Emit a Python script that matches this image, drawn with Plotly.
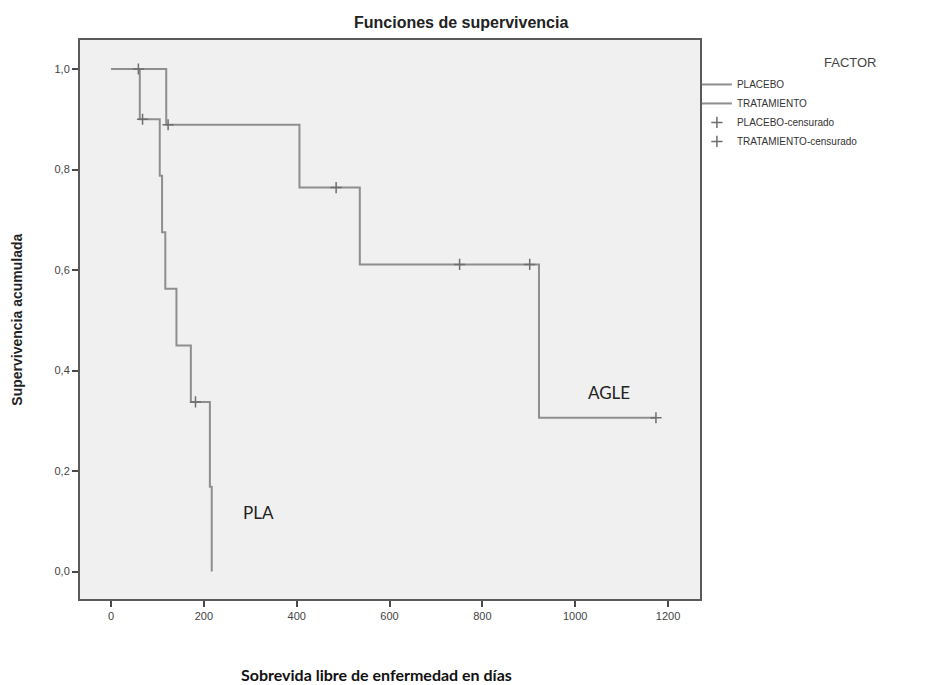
import plotly.graph_objects as go

# Kaplan-Meier step data (days, cumulative survival)
placebo_t = [0, 62, 105, 110, 117, 141, 172, 213, 217]
placebo_s = [1.0, 0.9, 0.7875, 0.675, 0.5625, 0.45, 0.3375, 0.16875, 0.0]
trat_t = [0, 119, 406, 536, 922, 1174]
trat_s = [1.0, 0.889, 0.764, 0.611, 0.306, 0.306]

# censored observations
placebo_cens_t = [68, 182]
placebo_cens_s = [0.9, 0.3375]
trat_cens_t = [59, 123, 485, 751, 902, 1174]
trat_cens_s = [1.0, 0.889, 0.764, 0.611, 0.611, 0.306]

x_ticks = [0, 200, 400, 600, 800, 1000, 1200]
x_ticktext = ["0", "200", "400", "600", "800", "1000", "1200"]
y_ticks = [0.0, 0.2, 0.4, 0.6, 0.8, 1.0]
y_ticktext = ["0,0", "0,2", "0,4", "0,6", "0,8", "1,0"]

line_col = "#8e8e8e"
mark_col = "#6e6e6e"

fig = go.Figure()
fig.add_trace(go.Scatter(x=placebo_t, y=placebo_s, mode="lines", line_shape="hv",
                         line=dict(color=line_col, width=2), name="PLACEBO"))
fig.add_trace(go.Scatter(x=trat_t, y=trat_s, mode="lines", line_shape="hv",
                         line=dict(color=line_col, width=2), name="TRATAMIENTO"))
fig.add_trace(go.Scatter(x=placebo_cens_t, y=placebo_cens_s, mode="markers",
                         marker=dict(symbol="cross-thin-open", size=8, color=mark_col,
                                     line=dict(color=mark_col, width=1.5)),
                         name="PLACEBO-censurado"))
fig.add_trace(go.Scatter(x=trat_cens_t, y=trat_cens_s, mode="markers",
                         marker=dict(symbol="cross-thin-open", size=8, color=mark_col,
                                     line=dict(color=mark_col, width=1.5)),
                         name="TRATAMIENTO-censurado"))

axis_common = dict(showgrid=False, zeroline=False, showline=True, linecolor="#5a5a5a",
                   linewidth=2, mirror=True, ticks="outside", ticklen=6, tickwidth=2,
                   tickcolor="#4a4a4a", tickfont=dict(family="Arial", size=11, color="#444"))

fig.update_layout(
    width=929, height=685,
    margin=dict(l=80, r=229, t=40, b=86),
    paper_bgcolor="white", plot_bgcolor="#f0f0f0",
    showlegend=True,
    legend=dict(x=0.995, y=0.9464, xanchor="left", yanchor="top",
                font=dict(family="Arial", size=10, color="#333"),
                bgcolor="rgba(0,0,0,0)", tracegroupgap=0),
    xaxis=dict(range=[-66.8, 1268.9], tickvals=x_ticks, ticktext=x_ticktext, **axis_common),
    yaxis=dict(range=[-0.0547, 1.0577], tickvals=y_ticks, ticktext=y_ticktext, **axis_common),
    annotations=[
        dict(text="<b>Funciones de supervivencia</b>", xref="paper", yref="paper",
             x=0.615, y=1.032, xanchor="center", yanchor="middle", showarrow=False,
             font=dict(family="Arial", size=16, color="#222")),
        dict(text="<b>Supervivencia acumulada</b>", xref="paper", yref="paper",
             x=-0.103, y=0.5, xanchor="center", yanchor="middle", showarrow=False,
             textangle=-90, font=dict(family="Arial", size=14, color="#222")),
        dict(text="<b>Sobrevida libre de enfermedad en días</b>", xref="paper", yref="paper",
             x=0.479, y=-0.135, xanchor="center", yanchor="middle", showarrow=False,
             font=dict(family="Lato", size=16, color="#111")),
        dict(text="FACTOR", xref="paper", yref="paper", x=1.242, y=0.9606,
             xanchor="center", yanchor="middle", showarrow=False,
             font=dict(family="Arial", size=13, color="#444")),
        dict(text="AGLE", xref="x", yref="y", x=1073, y=0.357, showarrow=False,
             xanchor="center", yanchor="middle",
             font=dict(family="Lato", size=17, color="#222")),
        dict(text="PLA", xref="x", yref="y", x=317, y=0.118, showarrow=False,
             xanchor="center", yanchor="middle",
             font=dict(family="Lato", size=17, color="#222")),
    ],
)

fig.write_html("out.html", config={"displayModeBar": False},
               post_script="document.body.style.margin='0';")
